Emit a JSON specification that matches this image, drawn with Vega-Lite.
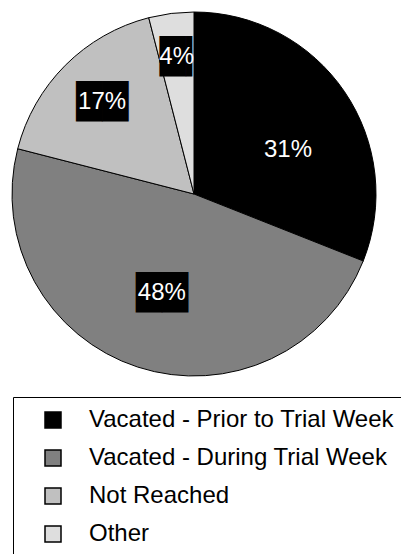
{
  "$schema": "https://vega.github.io/schema/vega-lite/v6.json",
  "autosize": {"type": "none"},
  "width": 388,
  "height": 388,
  "padding": {"left": 0, "top": 0, "right": 13, "bottom": 166},
  "background": "white",
  "config": {"view": {"stroke": null}, "font": "Liberation Sans"},
  "data": {
    "values": [
      {"category": "Vacated - Prior to Trial Week", "pct": 31, "label": "31%", "order": 1},
      {"category": "Vacated - During Trial Week", "pct": 48, "label": "48%", "order": 2},
      {"category": "Not Reached", "pct": 17, "label": "17%", "order": 3},
      {"category": "Other", "pct": 4, "label": "4%", "order": 4}
    ]
  },
  "layer": [
    {
      "mark": {"type": "arc", "outerRadius": 182, "stroke": "black", "strokeWidth": 1},
      "encoding": {
        "theta": {"field": "pct", "type": "quantitative", "stack": true},
        "order": {"field": "order", "type": "quantitative"},
        "color": {
          "field": "category",
          "type": "nominal",
          "scale": {
            "domain": ["Vacated - Prior to Trial Week", "Vacated - During Trial Week", "Not Reached", "Other"],
            "range": ["#000000", "#808080", "#c0c0c0", "#dedede"]
          },
          "legend": {
            "title": null,
            "orient": "none",
            "legendX": 13,
            "legendY": 397,
            "padding": 11,
            "strokeColor": "black",
            "fillColor": "white",
            "symbolType": "square",
            "symbolSize": 256,
            "symbolStrokeColor": "black",
            "symbolStrokeWidth": 1.5,
            "symbolOffset": 17,
            "labelOffset": 24,
            "labelFontSize": 24,
            "labelFont": "Liberation Sans",
            "labelColor": "black",
            "rowPadding": 14,
            "labelLimit": 0
          }
        }
      }
    },
    {
      "mark": {"type": "text", "color": "black", "fontSize": 34, "font": "DejaVu Sans", "baseline": "middle", "align": "center", "dy": 1},
      "encoding": {
        "theta": {"field": "pct", "type": "quantitative", "stack": true},
        "order": {"field": "order", "type": "quantitative"},
        "detail": {"field": "category"},
        "radius": {"field": "pct", "type": "quantitative", "scale": {"domain": [4, 17, 31, 48], "range": [138, 130, 104, 104], "zero": false}},
        "text": {"condition": {"test": "datum.order == 1 || datum.order == 4", "value": ""}, "value": "██"}
      }
    },
    {
      "mark": {"type": "text", "color": "black", "fontSize": 34, "font": "DejaVu Sans", "baseline": "middle", "align": "center", "dy": 1, "dx": 9},
      "encoding": {
        "theta": {"field": "pct", "type": "quantitative", "stack": true},
        "order": {"field": "order", "type": "quantitative"},
        "detail": {"field": "category"},
        "radius": {"field": "pct", "type": "quantitative", "scale": {"domain": [4, 17, 31, 48], "range": [138, 130, 104, 104], "zero": false}},
        "text": {"condition": {"test": "datum.order == 4", "value": "█▎"}, "value": ""}
      }
    },
    {
      "mark": {"type": "text", "color": "white", "fontSize": 24, "font": "Liberation Sans", "baseline": "middle", "align": "center"},
      "encoding": {
        "theta": {"field": "pct", "type": "quantitative", "stack": true},
        "order": {"field": "order", "type": "quantitative"},
        "detail": {"field": "category"},
        "radius": {"field": "pct", "type": "quantitative", "scale": {"domain": [4, 17, 31, 48], "range": [138, 130, 104, 104], "zero": false}},
        "text": {"field": "label", "condition": {"test": "datum.order == 1", "value": ""}}
      }
    },
    {
      "mark": {"type": "text", "color": "white", "fontSize": 24, "font": "Liberation Sans", "baseline": "middle", "align": "center", "dx": 8, "dy": 14},
      "encoding": {
        "theta": {"field": "pct", "type": "quantitative", "stack": true},
        "order": {"field": "order", "type": "quantitative"},
        "detail": {"field": "category"},
        "radius": {"field": "pct", "type": "quantitative", "scale": {"domain": [4, 17, 31, 48], "range": [138, 130, 104, 104], "zero": false}},
        "text": {"field": "label", "condition": {"test": "datum.order != 1", "value": ""}}
      }
    }
  ]
}
